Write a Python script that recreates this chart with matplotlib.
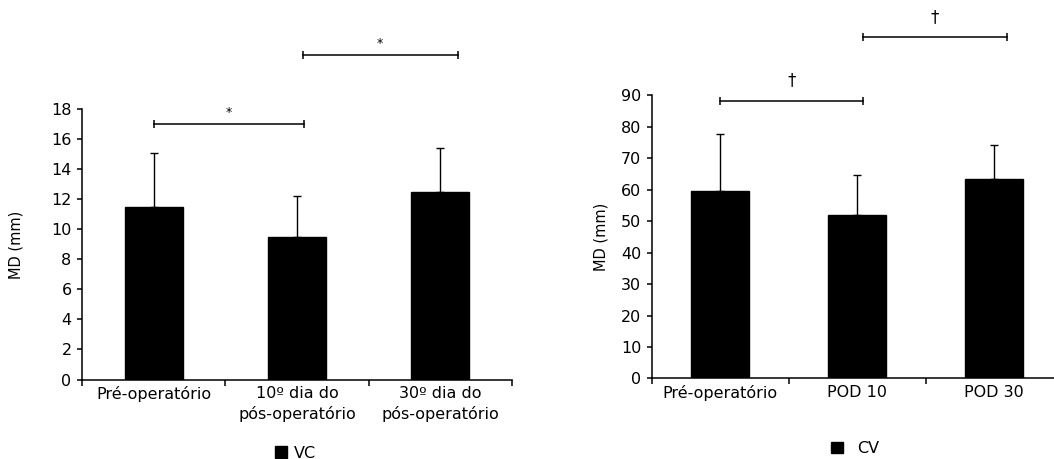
import numpy as np
import matplotlib.pyplot as plt

# Data links: VC
vc_labels = ['Pré-operatório', '10º dia do\npós-operatório', '30º dia do\npós-operatório']
vc_mean = [11.5, 9.5, 12.5]
vc_sd = [3.6, 2.7, 2.9]
vc_pairs = [(0, 1.05), (1.04, 2.12)]
vc_pair_y = [17.05, 21.6]
vc_mark = '*'

# Data rechts: CV
cv_labels = ['Pré-operatório', 'POD 10', 'POD 30']
cv_mean = [59.7, 51.9, 63.3]
cv_sd = [18.1, 12.8, 10.8]
cv_pairs = [(0, 1.04), (1.04, 2.09)]
cv_pair_y = [88.3, 108.4]
cv_mark = '†'

plt.rcParams['font.family'] = ['DejaVu Sans']

fig = plt.figure(figsize=(10.54, 4.59), dpi=100)

ax1 = fig.add_axes([0.0778, 0.1732, 0.408, 0.5887])
ax2 = fig.add_axes([0.6183, 0.1754, 0.390, 0.6170])


def teken(ax, labels, mean, sd, width, ymax, ystep, pairs, pair_y, mark, mark_dy, mark_size, name, leg_xy, leg_pad, lab_x):
    x = np.arange(len(mean))
    ax.bar(x, mean, width=width, color='black', edgecolor='black', label=name,
           yerr=[np.zeros(len(sd)), sd], capsize=2.8,
           error_kw=dict(elinewidth=1.0, capthick=1.0, ecolor='black'))

    ax.set_xlim(-0.5, len(mean) - 0.5)
    ax.set_ylim(0, ymax)
    ax.set_yticks(np.arange(0, ymax + 1, ystep))

    # streepjes tussen categorieen, labels in het midden
    ax.set_xticks(np.arange(len(mean) + 1) - 0.5)
    ax.set_xticklabels([])
    ax.set_xticks(x, minor=True)
    ax.set_xticklabels(labels, minor=True, fontsize=11.5, linespacing=1.35)
    ax.tick_params(axis='x', which='major', direction='out', length=4, width=1.1)
    ax.tick_params(axis='x', which='minor', length=0, pad=5)
    ax.tick_params(axis='y', direction='out', length=3.5, width=1.1, pad=4, labelsize=11.5)

    ax.spines['top'].set_visible(False)
    ax.spines['right'].set_visible(False)
    ax.spines['left'].set_linewidth(1.1)
    ax.spines['bottom'].set_linewidth(1.1)

    ax.set_ylabel('MD (mm)', fontsize=10.5)
    ax.yaxis.set_label_coords(lab_x, 0.5)

    # significantie haken
    for (a, b), y in zip(pairs, pair_y):
        ax.plot([a, b], [y, y], color='black', lw=1.1, clip_on=False)
        ax.plot([a, b], [y, y], ls='none', marker='|', markersize=6, mew=1.1,
                color='black', clip_on=False)
        ax.text((a + b) / 2, y + mark_dy, mark, ha='center', va='center',
                fontsize=mark_size, clip_on=False)

    ax.legend(loc='center', bbox_to_anchor=leg_xy, bbox_transform=fig.transFigure,
              frameon=False, fontsize=11.5, handlelength=0.75, handleheight=0.75,
              handletextpad=leg_pad)


teken(ax1, vc_labels, vc_mean, vc_sd, 0.404, 18, 2, vc_pairs, vc_pair_y, vc_mark,
      0.75, 9, 'VC', (0.2804, 0.013), 0.4, -0.137)
teken(ax2, cv_labels, cv_mean, cv_sd, 0.423, 90, 10, cv_pairs, cv_pair_y, cv_mark,
      6.5, 12, 'CV', (0.811, 0.023), 0.9, -0.106)

plt.savefig('out.png', dpi=100)
